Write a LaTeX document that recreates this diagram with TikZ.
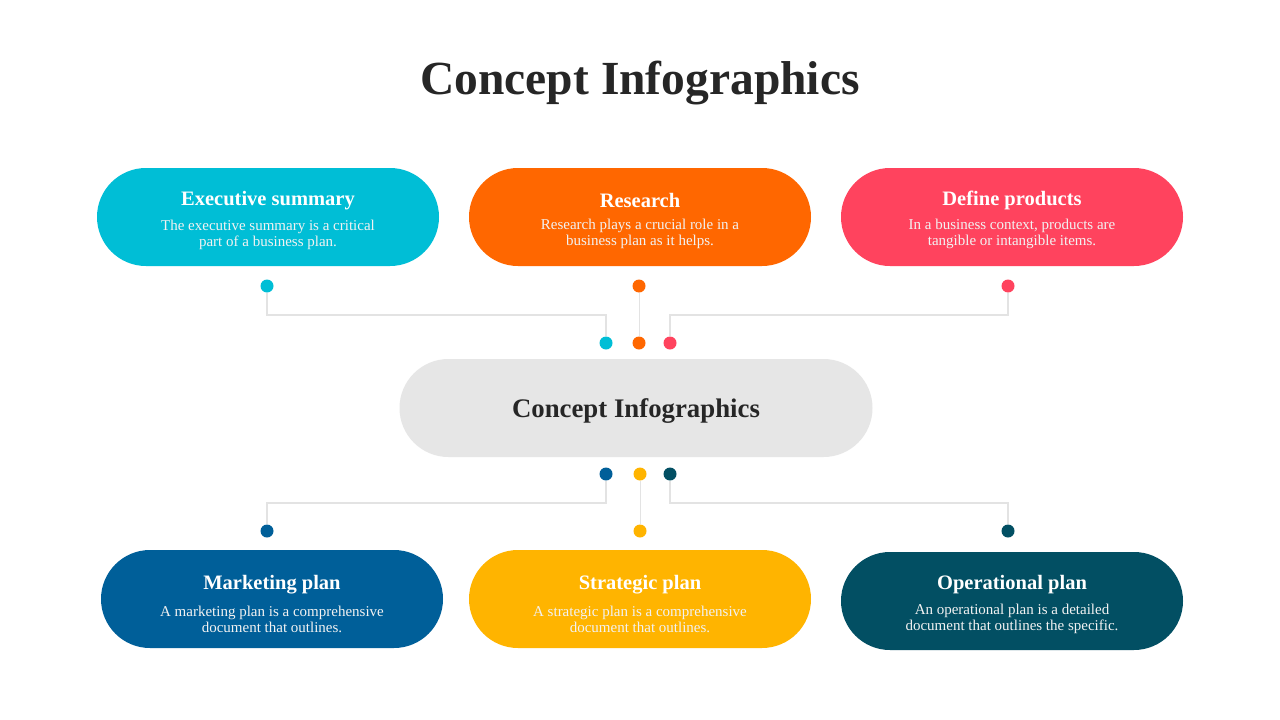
\documentclass[tikz,border=0pt]{standalone}
\usepackage{fontspec}
\setmainfont{Liberation Serif}
\definecolor{ccyan}{HTML}{00BED6}
\definecolor{corange}{HTML}{FF6700}
\definecolor{cred}{HTML}{FF435E}
\definecolor{cgray}{HTML}{E6E6E6}
\definecolor{cblue}{HTML}{005F99}
\definecolor{cyellow}{HTML}{FFB400}
\definecolor{cteal}{HTML}{024F63}
\definecolor{ctext}{HTML}{262626}
\definecolor{cline}{HTML}{E3E3E3}
\definecolor{cdesc}{HTML}{F2F2F2}
\tikzset{
  pill/.style={fill=#1, draw=none, minimum width=342pt, minimum height=98pt, rounded corners=49pt, inner sep=0pt},
  dot/.style={circle, fill=#1, draw=none, minimum size=13pt, inner sep=0pt},
  conn/.style={draw=cline, line width=2pt},
  hd/.style={text=white, font=\bfseries\fontsize{20.5}{24}\selectfont, inner sep=0pt},
  desc/.style={text=cdesc, font=\fontsize{15}{16}\selectfont, align=center, inner sep=0pt},
}
\begin{document}
\begin{tikzpicture}[x=1pt,y=-1pt]
\useasboundingbox (0,0) rectangle (1280,720);
\fill[white] (0,0) rectangle (1280,720);
\node[text=ctext, font=\bfseries\fontsize{47.5}{52}\selectfont] (title) at (640,83) {Concept Infographics};

\node[dot=ccyan] (d1) at (267,286) {};
\node[dot=corange] (d2) at (639,286) {};
\node[dot=cred] (d3) at (1008,286) {};
\node[dot=ccyan] (e1) at (606,343) {};
\node[dot=corange] (e2) at (639,343) {};
\node[dot=cred] (e3) at (670,343) {};
\node[dot=cblue] (f1) at (606,474) {};
\node[dot=cyellow] (f2) at (640,474) {};
\node[dot=cteal] (f3) at (670,474) {};
\node[dot=cblue] (g1) at (267,531) {};
\node[dot=cyellow] (g2) at (640,531) {};
\node[dot=cteal] (g3) at (1008,531) {};
\coordinate (y1) at (0,315);
\coordinate (y2) at (0,503);
\draw[conn] (d1) -- (d1.center |- y1) -- (e1.center |- y1) -- (e1);
\draw[conn, line width=1pt] (d2) -- (e2);
\draw[conn] (d3) -- (d3.center |- y1) -- (e3.center |- y1) -- (e3);
\draw[conn] (f1) -- (f1.center |- y2) -- (g1.center |- y2) -- (g1);
\draw[conn, line width=1pt] (f2) -- (g2);
\draw[conn] (f3) -- (f3.center |- y2) -- (g3.center |- y2) -- (g3);

\node[pill=ccyan] (exec) at (268,217) {};
\node[hd] at (268,201) {Executive summary};
\node[desc] at (268,235) {The executive summary is a critical\\part of a business plan.};

\node[pill=corange] (res) at (640,217) {};
\node[hd] at (640,200) {Research};
\node[desc] at (640,234) {Research plays a crucial role in a\\business plan as it helps.};

\node[pill=cred] (def) at (1012,217) {};
\node[hd] at (1012,200) {Define products};
\node[desc] at (1012,234) {In a business context, products are\\tangible or intangible items.};

\node[pill=cgray, minimum width=473pt] (center) at (636,408) {};
\node[text=ctext, font=\bfseries\fontsize{26.8}{30}\selectfont, inner sep=0pt] (centertext) at (636,411) {Concept Infographics};

\node[pill=cblue] (mkt) at (272,599) {};
\node[hd] at (272,585) {Marketing plan};
\node[desc] at (272,619) {A marketing plan is a comprehensive\\document that outlines.};

\node[pill=cyellow] (str) at (640,599) {};
\node[hd] at (640,585) {Strategic plan};
\node[desc] at (640,619) {A strategic plan is a comprehensive\\document that outlines.};

\node[pill=cteal] (ops) at (1012,601) {};
\node[hd] at (1012,585) {Operational plan};
\node[desc] at (1012,619) {An operational plan is a detailed\\document that outlines the specific.};
\end{tikzpicture}
\end{document}
